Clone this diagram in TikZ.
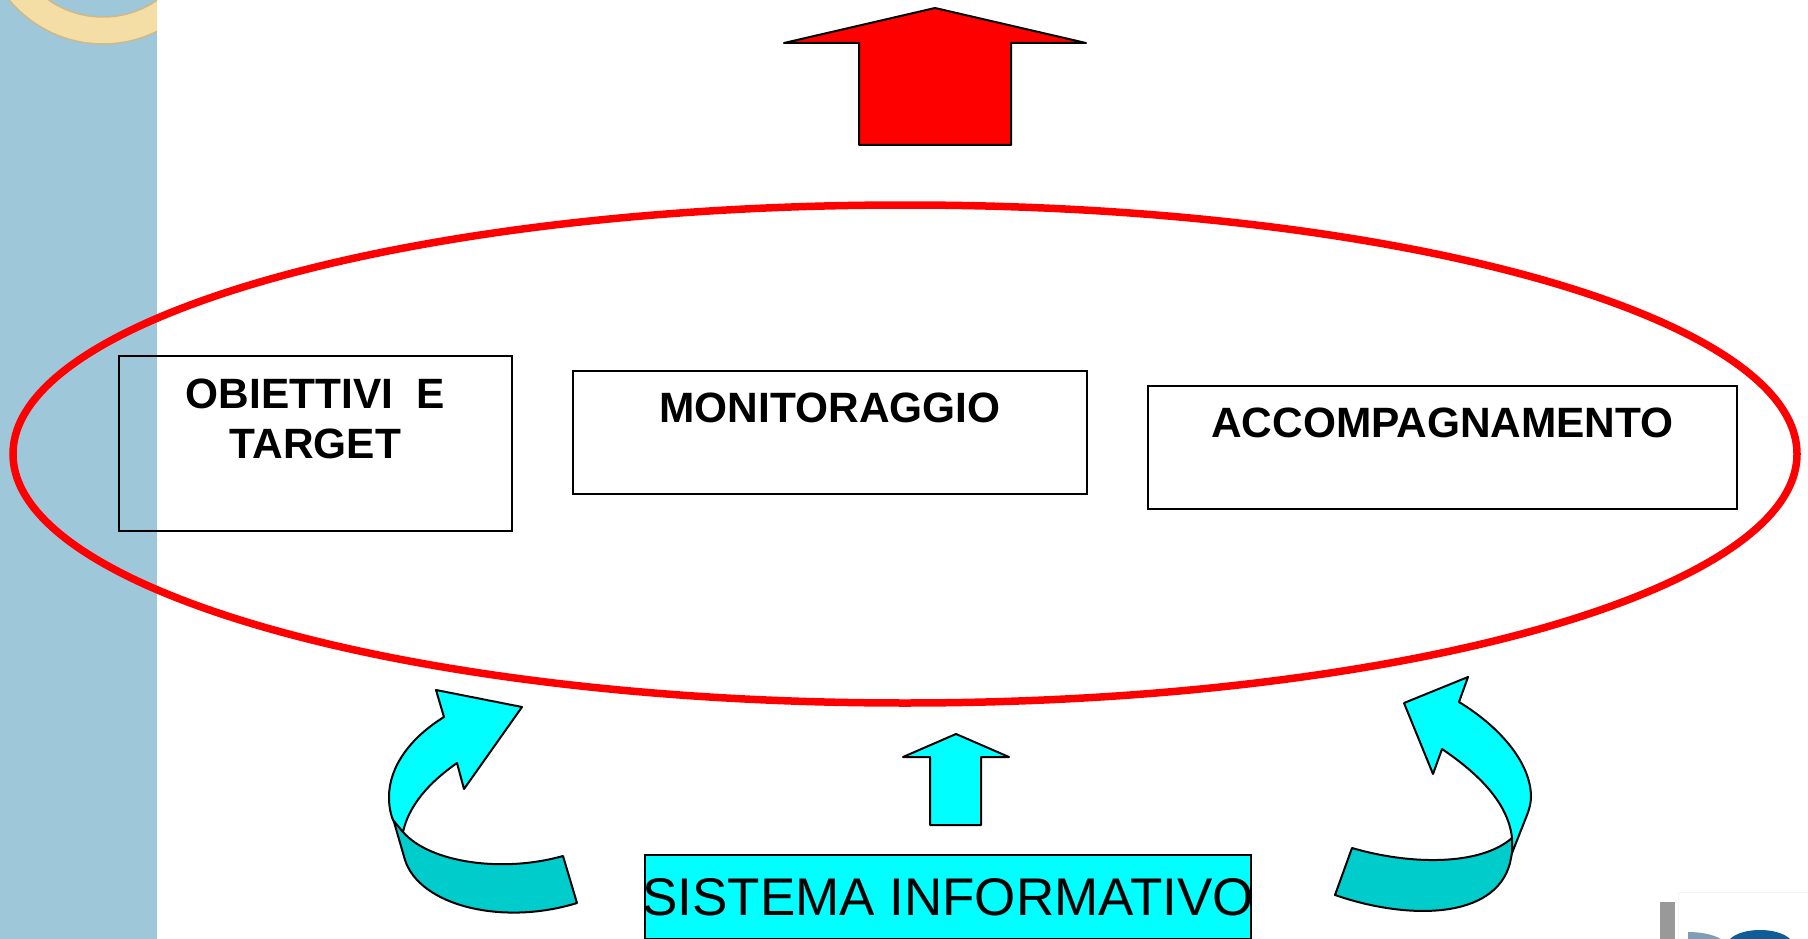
\documentclass[tikz,border=0pt]{standalone}
\usepackage{fontspec}
\setmainfont{Liberation Sans}
\usetikzlibrary {positioning}
\definecolor {sidebarblue}{HTML}{9FC7DA}
\definecolor {ringyellow}{HTML}{F4DEA6}
\definecolor {ringedge}{HTML}{CDB98A}
\definecolor {brightcyan}{HTML}{00FFFF}
\definecolor {darkcyan}{HTML}{00CCCC}
\definecolor {brightred}{HTML}{FF0000}
\definecolor {logoblue}{HTML}{0F5C96}
\definecolor {logogray}{HTML}{7F9DB5}

\begin{document}
\begin{tikzpicture}[x=1pt ,y=-1pt ,
goalbox/.style ={draw ,line width =2pt ,align =center ,inner sep =0pt ,
font =\fontsize{42.4}{50}\selectfont\bfseries },
infobox/.style ={draw ,fill =brightcyan ,line width =2pt ,inner sep =0pt ,
font =\fontsize{53}{60}\selectfont },
blockarrow/.style ={draw ,line width =2pt ,line join =round },
rearface/.style ={blockarrow ,fill =darkcyan }]
\useasboundingbox (0,0) rectangle (1808,939);
\fill[sidebarblue] (0,0) rectangle (157,939);
\begin{scope}
\clip (0,0) rectangle (157,939);
\draw[ringedge ,fill =ringyellow ,line width =1.5pt ,even odd rule]
(103,-78) circle (122) (103,-78) circle (95);
\end{scope}
\draw[fill =white ,draw =black!4 ,line width =1pt] (1678,892) rectangle (1820,950);
\fill[black!40] (1660,902) rectangle (1675,939);
\fill[logogray] (1688,932) .. controls (1700,932) and (1712,934) .. (1721,939) -- (1688,939) -- cycle;
\fill[logoblue] (1730,939) .. controls (1742,927) and (1778,927) .. (1790,939) -- cycle;
\draw[brightred ,line width =7.5pt] (905,454) ellipse (892 and 249);
\node[goalbox ,minimum width =393pt ,minimum height =175pt] (obiettivi)
at (315.5,443.5) {OBIETTIVI~~E\\TARGET\\~};
\node[goalbox ,minimum width =514pt ,minimum height =123pt] (monitoraggio)
[below right=15pt and 59pt of obiettivi.north east ,anchor =north west] {MONITORAGGIO\\~};
\node[goalbox ,minimum width =589pt ,minimum height =123pt] (accompagnamento)
[below right=15pt and 59pt of monitoraggio.north east ,anchor =north west] {ACCOMPAGNAMENTO\\~};
\node[infobox ,minimum height =84pt] (sistema)
at (948,897) {\makebox[606pt][c]{SISTEMA INFORMATIVO}};
\draw[blockarrow ,fill =brightred] (935,8) -- (1086,43) -- (1011,43) -- (1011,145)
-- (859,145) -- (859,43) -- (784,43) -- cycle;
\draw[blockarrow ,fill =brightcyan] (956,734) -- (1009,757) -- (981,757) -- (981,825)
-- (930,825) -- (930,757) -- (903,757) -- cycle;
\draw[rearface] (392,815) -- (405,860) .. controls (420,906) and (503,926) .. (577,903)
-- (563,856) .. controls (503,873) and (430,863) .. (403,832) -- cycle;
\draw[blockarrow ,fill =brightcyan] (436,690) -- (522,707) -- (464,789) -- (457,763)
.. controls (437,777) and (410,800) .. (403,832) -- (393,820)
.. controls (389,810) and (389,800) .. (389,797)
.. controls (389,767) and (410,738) .. (444,717) -- cycle;
\draw[rearface] (1512,838) .. controls (1480,866) and (1410,865) .. (1352,848)
-- (1335,895) .. controls (1407,920) and (1495,920) .. (1510,863) -- (1512,853) -- cycle;
\draw[blockarrow ,fill =brightcyan] (1468,677) -- (1404,703) -- (1433,774) -- (1442,749)
.. controls (1473,770) and (1508,800) .. (1512,838) -- (1512,853) -- (1527,815)
.. controls (1529,810) and (1531,803) .. (1531,797)
.. controls (1531,763) and (1500,727) .. (1459,702) -- cycle;
\end{tikzpicture}
\end{document}
